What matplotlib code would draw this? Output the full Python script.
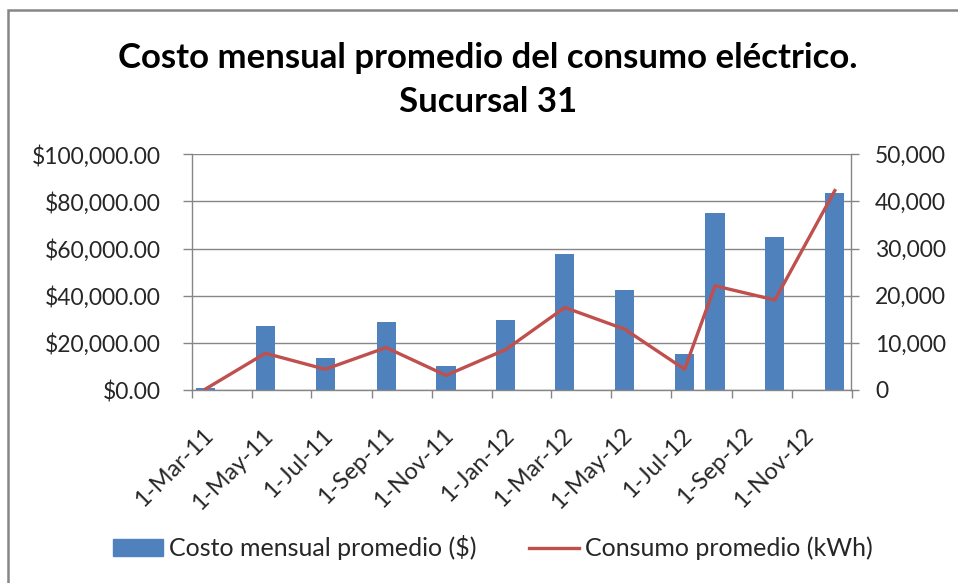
import matplotlib
matplotlib.use('Agg')
import matplotlib.pyplot as plt
import matplotlib.dates as mdates
import matplotlib.transforms as mtransforms
from matplotlib.patches import Rectangle, Patch
from matplotlib.lines import Line2D
from matplotlib.ticker import FuncFormatter, MultipleLocator
from datetime import datetime

# ---- data ----
fechas = ['2011-03-15', '2011-05-15', '2011-07-15', '2011-09-15', '2011-11-15', '2012-01-15',
          '2012-03-15', '2012-05-15', '2012-07-15', '2012-08-15', '2012-10-15', '2012-12-15']
costo = [1000, 27300, 13700, 29000, 10300, 29800, 57800, 42600, 15400, 75000, 64800, 83500]
consumo = [200, 7800, 4400, 9000, 3100, 8600, 17500, 12900, 4400, 22100, 19100, 42300]
tick_fechas = ['2011-03-01', '2011-05-01', '2011-07-01', '2011-09-01', '2011-11-01', '2012-01-01',
               '2012-03-01', '2012-05-01', '2012-07-01', '2012-09-01', '2012-11-01', '2013-01-01']
tick_labels = ['1-Mar-11', '1-May-11', '1-Jul-11', '1-Sep-11', '1-Nov-11', '1-Jan-12',
               '1-Mar-12', '1-May-12', '1-Jul-12', '1-Sep-12', '1-Nov-12', '']
titulo = 'Costo mensual promedio del consumo eléctrico.\nSucursal 31'
serie1 = 'Costo mensual promedio ($)'
serie2 = 'Consumo promedio (kWh)'

plt.rcParams['font.family'] = ['Lato', 'DejaVu Sans']

x = [mdates.date2num(datetime.strptime(d, '%Y-%m-%d')) for d in fechas]
xt = [mdates.date2num(datetime.strptime(d, '%Y-%m-%d')) for d in tick_fechas]

BLUE = '#4F81BD'
RED = '#C0504D'
GRAY = '#868686'
TXT = '#262626'

fig = plt.figure(figsize=(9.58, 5.83), dpi=100)
fig.patch.set_facecolor('white')
# chart border
fig.add_artist(Rectangle((8 / 958, -0.1), 1.2, 1 - 10 / 583 + 0.1, transform=fig.transFigure,
                         fill=False, edgecolor=GRAY, linewidth=1.8))

ax = fig.add_axes([191.7 / 958, 1 - 390 / 583, (851.5 - 191.7) / 958, (390 - 154.3) / 583])
ax2 = ax.twinx()

ax.bar(x, costo, width=19.5, color=BLUE, zorder=2)
ax2.plot(x, consumo, color=RED, linewidth=2.4, zorder=3)

ax.set_xlim(xt[0], xt[-1])
ax.set_ylim(0, 100000)
ax2.set_ylim(0, 50000)
ax.yaxis.set_major_locator(MultipleLocator(20000))
ax2.yaxis.set_major_locator(MultipleLocator(10000))
ax.yaxis.set_major_formatter(FuncFormatter(lambda v, p: '${:,.2f}'.format(v)))
ax2.yaxis.set_major_formatter(FuncFormatter(lambda v, p: '{:,.0f}'.format(v)))

ax.set_xticks(xt)
ax.set_xticklabels(tick_labels)
ax.grid(axis='y', color=GRAY, linewidth=1.0, zorder=0)
ax.set_axisbelow(True)

for a in (ax, ax2):
    for s in a.spines.values():
        s.set_color(GRAY)
        s.set_linewidth(1.0)
    a.spines['top'].set_visible(False)
ax.spines['right'].set_visible(False)
ax2.spines['left'].set_visible(False)
ax2.spines['bottom'].set_visible(False)

ax.tick_params(axis='y', direction='out', length=6.5, width=1.0, color=GRAY,
               labelsize=16.5, labelcolor=TXT, pad=16)
ax2.tick_params(axis='y', direction='out', length=6, width=1.0, color=GRAY,
                labelsize=16.5, labelcolor=TXT, pad=11)
ax.tick_params(axis='x', direction='out', length=6, width=1.0, color=GRAY,
               labelsize=17, labelcolor=TXT, pad=2)

off = mtransforms.ScaledTranslation(18 / 100, -31 / 100, fig.dpi_scale_trans)
for lab in ax.get_xticklabels():
    lab.set_rotation(45)
    lab.set_rotation_mode('anchor')
    lab.set_ha('right')
    lab.set_va('center')
    lab.set_transform(lab.get_transform() + off)

fig.text(488 / 958, 1 - 80 / 583, titulo, ha='center', va='center', fontsize=25,
         fontweight='bold', color='black', linespacing=1.5)

handles = [Patch(facecolor=BLUE, edgecolor=BLUE), Line2D([0], [0], color=RED, linewidth=2.4)]
fig.legend(handles, [serie1, serie2], loc='center', bbox_to_anchor=(493 / 958, 1 - 548 / 583),
           ncol=2, frameon=False, fontsize=18, handlelength=2.0, handleheight=0.64,
           handletextpad=0.24, columnspacing=2.1, labelcolor=TXT)

fig.savefig('out.png', dpi=100, facecolor='white')
